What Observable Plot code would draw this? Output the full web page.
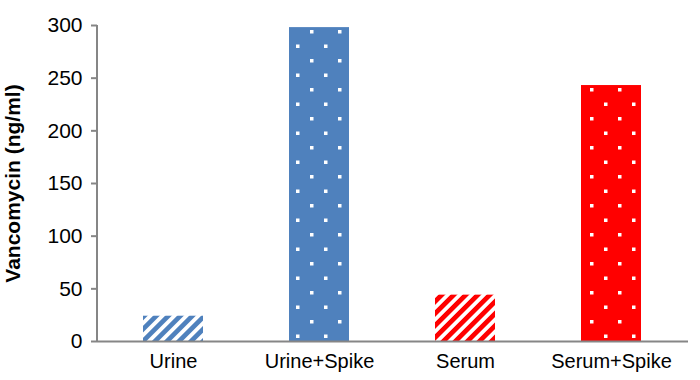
<!DOCTYPE html>
<html>
<head>
<meta charset="utf-8">
<script src="https://cdn.jsdelivr.net/npm/d3@7"></script>
<script src="https://cdn.jsdelivr.net/npm/@observablehq/plot@0.6"></script>
<style>
  html, body { margin: 0; padding: 0; background: #fff; }
</style>
</head>
<body>
<div id="chart"></div>
<script>
// Vancomycin concentration per sample type
const categories = ["Urine", "Urine+Spike", "Serum", "Serum+Spike"];
const values = [24, 298, 44, 243];
const fills = ["url(#stripe-blue)", "url(#dots-blue)", "url(#stripe-red)", "url(#dots-red)"];
const yTicks = [0, 50, 100, 150, 200, 250, 300];

const data = categories.map((category, i) => ({category, value: values[i], fill: fills[i]}));

const BLUE = "#4f81bd";
const RED = "#ff0000";
const AXIS = "#868686";

// Pattern definitions: diagonal stripes for plain samples, dotted fill for spiked ones
function patternDefs() {
  const defs = d3.create("svg:defs");
  for (const [id, color] of [["blue", BLUE], ["red", RED]]) {
    const s = defs.append("pattern")
      .attr("id", `stripe-${id}`)
      .attr("patternUnits", "userSpaceOnUse")
      .attr("width", 8.5).attr("height", 8.5)
      .attr("patternTransform", "rotate(45)");
    s.append("rect").attr("width", 8.5).attr("height", 8.5).attr("fill", "#fff");
    s.append("rect").attr("width", 4.4).attr("height", 8.5).attr("fill", color)
      .attr("shape-rendering", "crispEdges");

    const d = defs.append("pattern")
      .attr("id", `dots-${id}`)
      .attr("patternUnits", "userSpaceOnUse")
      .attr("x", 2).attr("y", 1)
      .attr("width", 28).attr("height", 29);
    d.append("rect").attr("width", 28).attr("height", 29).attr("fill", color);
    d.append("rect").attr("x", 0).attr("y", 0).attr("width", 3.5).attr("height", 3.5).attr("fill", "#fff");
    d.append("rect").attr("x", 14).attr("y", 14.5).attr("width", 3.5).attr("height", 3.5).attr("fill", "#fff");
  }
  return defs.node();
}

// Vertical axis line spanning the y ticks
function yAxisLine(index, scales, values, dimensions) {
  const x = dimensions.marginLeft;
  return d3.create("svg:line")
    .attr("x1", x).attr("x2", x)
    .attr("y1", scales.y(yTicks[0]) + 1).attr("y2", scales.y(yTicks[yTicks.length - 1]))
    .attr("stroke", AXIS).attr("stroke-width", 2)
    .node();
}

const chart = Plot.plot({
  width: 700,
  height: 380,
  marginTop: 25,
  marginBottom: 39,
  marginLeft: 97,
  marginRight: 12,
  style: {fontFamily: "'Liberation Sans', Arial, sans-serif", fontSize: "20px", background: "#fff", color: "#000"},
  x: {domain: categories, paddingInner: 0.589, paddingOuter: 0.315, label: null},
  y: {domain: [0, 300], label: null},
  color: {type: "identity"},
  marks: [
    patternDefs,
    Plot.barY(data, {x: "category", y: "value", fill: "fill"}),
    Plot.ruleY([0], {stroke: AXIS, strokeWidth: 2}),
    yAxisLine,
    Plot.axisY(yTicks, {tickSize: 6, tickPadding: 9, stroke: AXIS, strokeWidth: 2, fill: "#000", fontSize: 21,
      label: "Vancomycin (ng/ml)", labelAnchor: "center", labelOffset: 92, labelArrow: "none"}),
    Plot.axisX({tickSize: 0, tickPadding: 12, fill: "#000", fontSize: 20, label: null})
  ]
});

// bold axis title
d3.select(chart).selectAll("g[aria-label='y-axis label'] text").attr("font-weight", "bold");
document.getElementById("chart").append(chart);
</script>
</body>
</html>
